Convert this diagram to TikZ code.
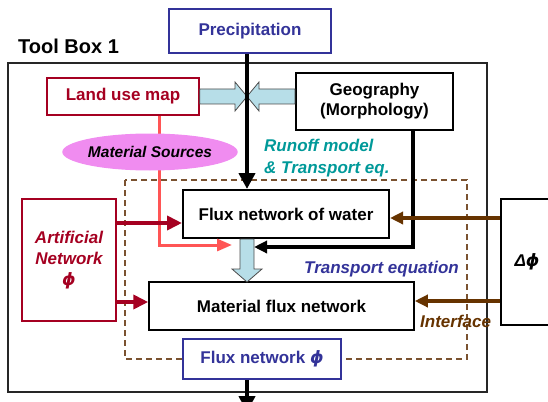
\documentclass[tikz,border=0pt]{standalone}
\usepackage{fontspec}
\setmainfont{Liberation Sans}
\newfontfamily\djv{DejaVu Sans}
\usetikzlibrary{arrows.meta,shapes.geometric,calc}
\definecolor{dred}{HTML}{A50021}
\definecolor{pblue}{HTML}{333399}
\definecolor{teal2}{HTML}{009999}
\definecolor{brn}{HTML}{663300}
\definecolor{dbrn}{HTML}{7A5230}
\definecolor{lblue}{HTML}{B7DEE8}
\definecolor{viol}{HTML}{F08CF0}
\definecolor{salm}{HTML}{FF5555}
\newcommand{\myphi}{{\djv\bfseries\itshape ϕ}}
\begin{document}
\begin{tikzpicture}[x=1pt,y=-1pt,
  every node/.style={font=\bfseries\fontsize{17}{20}\selectfont, inner sep=0pt},
  box/.style={draw, fill=white, line width=1.5pt, align=center},
  lab/.style={font=\bfseries\itshape\fontsize{17}{20}\selectfont, anchor=base west},
  blockarrow/.style={fill=lblue, draw=black!70, line width=0.8pt, line join=miter}
]
\clip (0,0) rectangle (548,401);
% outer tool box
\draw[line width=1.2pt, black!85] (8,63) rectangle (487,392);
\node[anchor=base west, font=\bfseries\fontsize{20}{24}\selectfont] (tb) at (18,54) {Tool Box 1};
% dashed region
\draw[dbrn, line width=1.5pt, dash pattern=on 6pt off 4pt] (125,180) rectangle (467,359);

% boxes
\node[box, draw=pblue, text=pblue, minimum width=162pt, minimum height=44pt] (prec) at (250,31) {Precipitation};
\node[box, draw=dred, text=dred, minimum width=152pt, minimum height=37pt] (land) at (123,96.5) {Land use map};
\node[box, line width=2.2pt, minimum width=157pt, minimum height=57pt] (geo) at (374.5,101.5) {Geography\\(Morphology)};
\node[box, line width=2pt, minimum width=206pt, minimum height=48pt] (fluxw) at (286,214) {Flux network of water};
\node[box, minimum width=265pt, minimum height=48pt] (mat) at (281.5,306) {Material flux network};
\node[box, draw=pblue, text=pblue, minimum width=158pt, minimum height=40pt] (fphi) at (262,359) {Flux network \myphi};
\node[box, draw=dred, text=dred, minimum width=94pt, minimum height=122pt, font=\bfseries\itshape\fontsize{17}{21}\selectfont] (art) at (69,260) {Artificial\\Network\\\myphi};
\node[box, minimum width=52pt, minimum height=126pt, font=\bfseries\itshape\fontsize{17}{20}\selectfont] (delta) at (527,262) {Δ\myphi};

% light blue block arrows
\draw[blockarrow] (land.east |- 0,89) -- (235,89) -- (235,82) -- (247,96.5) -- (235,111) -- (235,104) -- (land.east |- 0,104) -- cycle;
\draw[blockarrow] (geo.west |- 0,89) -- (259,89) -- (259,82) -- (247,96.5) -- (259,111) -- (259,104) -- (geo.west |- 0,104) -- cycle;
\draw[blockarrow] (fluxw.south -| 240,0) -- (240,269) -- (232,269) -- (247,282) -- (262,269) -- (254,269) -- (fluxw.south -| 254,0) -- cycle;
\coordinate (bl) at (232,245);
\coordinate (br) at (254,247);

% connectors
\draw[salm, line width=3pt, -{Triangle[length=15pt,width=12pt]}] (land.south -| 159,0) |- (bl);
\node[ellipse, fill=viol, minimum width=147pt, minimum height=37pt, font=\bfseries\itshape\fontsize{15.5}{18}\selectfont] (ms) at (150,152) {Material Sources};

\draw[line width=4.5pt, -{Triangle[length=16pt,width=16pt]}] (prec.south -| 247,0) -- (fluxw.north -| 247,0);
\draw[line width=4pt, -{Triangle[length=13pt,width=12pt]}] (geo.south -| 413,0) |- (br);
\coordinate (bot) at (247,412);
\draw[line width=4.5pt, -{Triangle[length=16pt,width=16pt]}] (fphi.south -| 247,0) -- (bot);

\draw[dred, line width=4.5pt, -{Triangle[length=15pt,width=14pt]}] (art.east |- 0,223) -- (fluxw.west |- 0,223);
\draw[dred, line width=4.5pt, -{Triangle[length=15pt,width=14pt]}] (art.east |- 0,302) -- (mat.west |- 0,302);
\draw[brn, line width=4pt, -{Triangle[length=13pt,width=12pt]}] (delta.west |- 0,218) -- (fluxw.east |- 0,218);
\draw[brn, line width=4pt, -{Triangle[length=13pt,width=12pt]}] (delta.west |- 0,301) -- (mat.east |- 0,301);

% labels
\node[lab, text=teal2] (l1) at (264,151) {Runoff model};
\node[lab, text=teal2] (l2) at (264,173) {\& Transport eq.};
\node[lab, text=pblue] (l3) at (304,273) {Transport equation};
\node[lab, text=brn] (l4) at (420,327) {Interface};
\end{tikzpicture}
\end{document}
